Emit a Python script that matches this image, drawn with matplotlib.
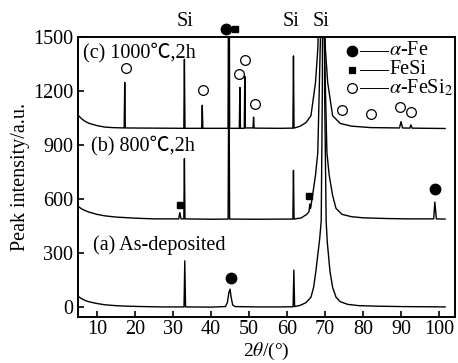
import matplotlib
matplotlib.use("Agg")
import matplotlib.pyplot as plt

plt.rcParams['font.family'] = ['Liberation Serif', 'DejaVu Serif']
plt.rcParams['mathtext.fontset'] = 'stix'
FS = 14.5
CJK = ['Liberation Serif', 'Noto Sans CJK SC', 'DejaVu Serif']

# (a) as-deposited
xa = [5, 6, 7, 8, 10, 12, 15, 18, 22, 27, 32.9, 33.1, 33.3, 40, 43.8,
      44.3, 44.7, 45.0, 45.3, 45.7, 46.3, 52, 58, 61.6, 61.8, 62.0, 63.5,
      65.0, 66.3, 67.0, 67.6, 68.1, 68.6, 69.0, 69.3, 69.6, 69.9, 70.3,
      70.6, 71.3, 72.0, 72.9, 74, 76, 79, 84, 90, 96, 101.6]
ya = [60, 46, 36, 29, 20, 13, 8, 5, 3, 1, 1, 257, 1, 0, 3,
      25, 80, 100, 55, 12, 3, 1, 1, 2, 206, 3, 10,
      25, 55, 110, 200, 290, 380, 477, 1200, 4500, 1200, 477,
      360, 200, 110, 55, 30, 15, 8, 5, 3, 2, 1]

# (b) 800 C, 2h
xb = [5, 6, 7, 8, 10, 12, 15, 20, 25, 31.5, 31.8, 32.1, 32.85, 33.0, 33.15,
      40, 44.5, 44.7, 44.9, 52, 61.55, 61.7, 61.85, 63.7, 65.2,
      65.8, 66.0, 66.2, 67.0, 67.5, 68.1, 68.8, 69.3, 69.8, 70.5,
      71.1, 72.0, 72.9, 74.5, 77, 80, 86, 92, 98.6, 98.9, 99.3, 101.6]
yb = [560, 545, 535, 527, 515, 507, 500, 494, 490, 490, 525, 490, 490, 824, 490,
      488, 489, 1450, 489, 488, 489, 760, 489, 495, 515,
      530, 572, 548, 660, 733, 858, 1500, 4000, 1500, 858,
      733, 620, 548, 515, 502, 496, 492, 490, 490, 583, 490, 489]

# (c) 1000 C, 2h
xc = [5, 6, 7, 8, 10, 12, 14, 17.15, 17.3, 17.45, 25, 32.85, 33.0, 33.15, 37.55,
      37.7, 37.85, 44.5, 44.7, 44.9, 47.45, 47.6, 47.75, 48.75, 48.9,
      49.05, 51.05, 51.2, 51.35, 58, 61.55, 61.7, 61.85, 63.5, 65.0,
      66.3, 67.5, 68.1, 68.6, 69.1, 69.6, 70.1, 70.7, 72.0, 74.0,
      77.0, 82, 89.6, 90.0, 90.4, 92.3, 92.6, 92.9, 97, 101.6]
yc = [1066, 1045, 1030, 1020, 1008, 1000, 997, 995, 1248, 995, 994, 993, 1376, 993, 993,
      1121, 993, 993, 3000, 993, 993, 1220, 993, 993, 1281,
      995, 995, 1055, 994, 993, 994, 1395, 994, 1005, 1025,
      1063, 1248, 1433, 1800, 4000, 1800, 1433, 1248, 1063, 1020,
      1005, 997, 995, 1030, 995, 994, 1012, 994, 993, 992]

# phase markers (2theta, intensity)
fe_x = [45.2, 99.0]
fe_y = [160, 657]
fesi_x = [31.8, 65.9]
fesi_y = [565, 615]
fesi2_x = [17.6, 37.9, 47.3, 49.0, 51.5, 74.6, 82.1, 89.7, 92.6]
fesi2_y = [1328, 1207, 1296, 1373, 1128, 1096, 1070, 1114, 1083]

si_x = [33.1, 61.1, 69.0]

fig = plt.figure(figsize=(4.58, 3.63), dpi=100)
ax = fig.add_axes([0.1703, 0.1267, 0.8231, 0.7713])

for xs, ys in [(xa, ya), (xb, yb), (xc, yc)]:
    ax.plot(xs, ys, color='black', lw=1.0)

ax.plot(fe_x, fe_y, 'o', color='black', ms=7.5)
ax.plot(fesi_x, fesi_y, 's', color='black', ms=4.5)
ax.plot(fesi2_x, fesi2_y, 'o', mfc='white', mec='black', mew=0.9, ms=7)

# labels above the frame
for sx in si_x:
    ax.text(sx, 1585, "Si", ha='center', va='center', fontsize=FS)
ax.plot([44.0], [1547], 'o', color='black', ms=7.5, clip_on=False)
ax.plot([46.2], [1547], 's', color='black', ms=4.5, clip_on=False)

ax.text(6.3, 1412, "(c) 1000℃,2h", fontsize=FS, va='center', family=CJK)
ax.text(8.4, 900, "(b) 800℃,2h", fontsize=FS, va='center', family=CJK)
ax.text(8.9, 344, "(a) As-deposited", fontsize=FS, va='center')

# legend: marker at the left end of a short line
leg = [('o', 'black', 7.5, r"$\alpha$-Fe"),
       ('s', 'black', 4.5, "FeSi"),
       ('o', 'white', 7, r"$\alpha$-FeSi$_2$")]
for i, (m, fc, ms, lab) in enumerate(leg):
    yy = 0.951 - i * 0.067
    ax.plot([0.748, 0.822], [yy, yy], color='black', lw=0.7,
            transform=ax.transAxes)
    ax.plot([0.727], [yy], m, mfc=fc, mec='black', ms=ms, mew=0.9,
            transform=ax.transAxes)
    ax.text(0.826, yy, lab, transform=ax.transAxes, fontsize=FS,
            va='center', ha='left')

ax.set_xlim(5, 104.2)
ax.set_ylim(-55, 1500)
ax.set_xticks(range(10, 101, 10))
ax.set_yticks(range(0, 1501, 300))
ax.tick_params(direction='in', length=4, width=1.2, labelsize=FS)
ax.tick_params(axis='x', pad=2.5)
for sp in ax.spines.values():
    sp.set_linewidth(1.4)

ax.set_xlabel(r"2$\theta$/(°)", fontsize=14)
ax.xaxis.set_label_coords(0.5, -0.122)
ax.xaxis.label.set_va('center')
ax.set_ylabel("Peak intensity/a.u.", fontsize=FS, labelpad=2)

fig.savefig("out.png", dpi=100)
